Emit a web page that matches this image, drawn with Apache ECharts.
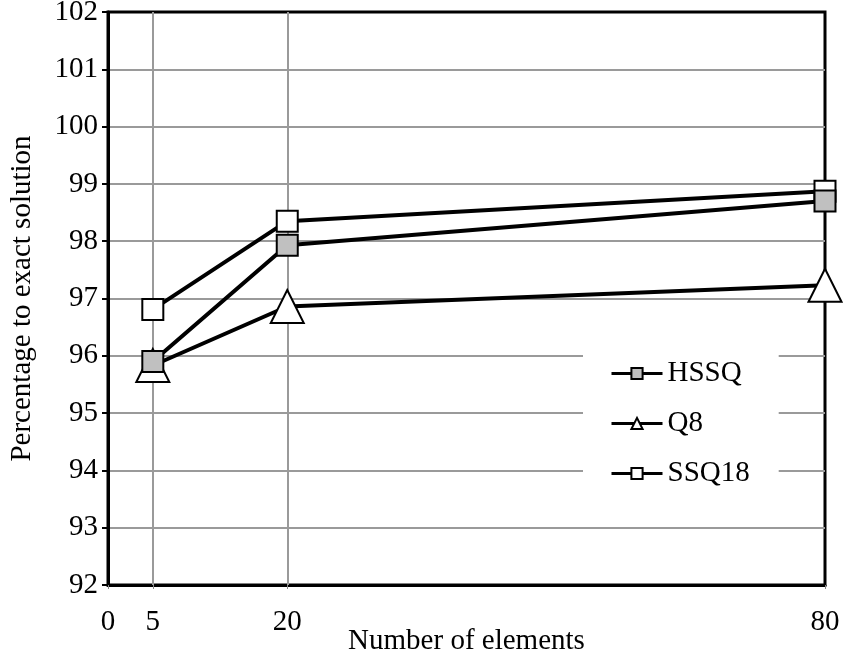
<!DOCTYPE html>
<html>
<head>
<meta charset="utf-8">
<script src="https://cdn.jsdelivr.net/npm/echarts@6/dist/echarts.min.js"></script>
<style>html,body{margin:0;padding:0;background:#fff}#c{width:843px;height:659px}</style>
</head>
<body>
<div id="c"></div>
<script>
const xTicks = [0, 5, 20, 80];
const xGridLines = [5, 20];
const elements = [5, 20, 80];
const hssq = [95.9, 97.93, 98.7];
const q8 = [95.83, 96.86, 97.23];
const ssq18 = [96.81, 98.35, 98.87];
const seriesNames = ['HSSQ', 'Q8', 'SSQ18'];

const FONT = '"Liberation Serif", "Times New Roman", serif';
const pairs = (xs, ys) => xs.map((x, i) => [x, ys[i]]);

const chart = echarts.init(document.getElementById('c'), null, {renderer: 'canvas'});
chart.setOption({
  animation: false,
  backgroundColor: '#fff',
  textStyle: {fontFamily: FONT, color: '#000'},
  grid: {left: 108, right: 18, top: 12, bottom: 74, outerBoundsMode: 'none', containLabel: false, show: true, borderColor: '#000', borderWidth: 3, backgroundColor: 'transparent'},
  legend: {
    data: seriesNames,
    orient: 'vertical',
    left: 583,
    top: 343,
    padding: [16, 29, 20, 27],
    backgroundColor: '#fff',
    itemWidth: 51,
    itemHeight: 14,
    itemGap: 21,
    textStyle: {fontFamily: FONT, fontSize: 29, color: '#000'},
    lineStyle: {width: 3, color: '#000'},
    selectedMode: false
  },
  xAxis: {
    type: 'value',
    min: 0,
    max: 80,
    name: 'Number of elements',
    nameLocation: 'middle',
    nameGap: 42,
    nameMoveOverlap: false,
    nameTextStyle: {fontFamily: FONT, fontSize: 29, color: '#000'},
    axisLine: {show: true, lineStyle: {color: '#000', width: 3}},
    axisTick: {show: true, customValues: xTicks, length: 4, lineStyle: {color: '#888', width: 1}},
    axisLabel: {customValues: xTicks, fontFamily: FONT, fontSize: 29, color: '#000', margin: 23},
    splitLine: {show: false}
  },
  yAxis: {
    type: 'value',
    min: 92,
    max: 102,
    interval: 1,
    name: 'Percentage to exact solution',
    nameLocation: 'middle',
    nameGap: 71,
    nameMoveOverlap: false,
    nameTextStyle: {fontFamily: FONT, fontSize: 29, color: '#000'},
    axisLine: {show: true, lineStyle: {color: '#000', width: 3}},
    axisTick: {show: true, length: 6, lineStyle: {color: '#000', width: 2}},
    axisLabel: {fontFamily: FONT, fontSize: 29, color: '#000', margin: 10},
    splitLine: {show: true, showMinLine: false, showMaxLine: false, lineStyle: {color: '#9a9a9a', width: 2}}
  },
  series: [
    {
      name: 'SSQ18', type: 'line', data: pairs(elements, ssq18),
      symbol: 'rect', symbolSize: 21,
      lineStyle: {color: '#000', width: 4},
      itemStyle: {color: '#fff', borderColor: '#000', borderWidth: 2},
      markLine: {
        silent: true, symbol: ['none', 'none'], label: {show: false},
        lineStyle: {color: '#9a9a9a', width: 2, type: 'solid'},
        data: xGridLines.map(v => ({xAxis: v})),
        z: 1
      }
    },
    {
      name: 'Q8', type: 'line', data: pairs(elements, q8),
      symbol: 'triangle', symbolSize: [33, 33],
      lineStyle: {color: '#000', width: 4},
      itemStyle: {color: '#fff', borderColor: '#000', borderWidth: 2}
    },
    {
      name: 'HSSQ', type: 'line', data: pairs(elements, hssq),
      symbol: 'rect', symbolSize: 21,
      lineStyle: {color: '#000', width: 4},
      itemStyle: {color: '#c0c0c0', borderColor: '#000', borderWidth: 2}
    }
  ]
});
</script>
</body>
</html>
